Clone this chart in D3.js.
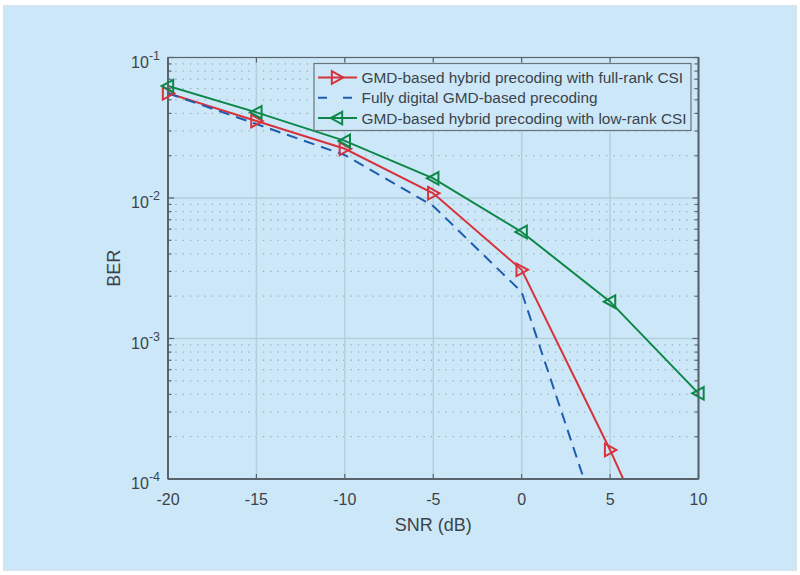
<!DOCTYPE html>
<html>
<head>
<meta charset="utf-8">
<script src="https://cdn.jsdelivr.net/npm/d3@7"></script>
<style>
  body { margin: 0; background: #ffffff; }
  text { font-family: "Liberation Sans", Arial, sans-serif; fill: #3c434a; }
</style>
</head>
<body>
<div id="chart"></div>
<script>
// SNR points (dB)
const snr = [-20, -15, -10, -5, 0, 5, 10];
// BER values
const berFullRank = [0.0556, 0.0353, 0.0224, 0.0108, 0.00308, 1.61e-4, 6.5e-6];
const berDigital = [0.0556, 0.0336, 0.0202, 0.00877, 0.00214, 2.75e-5];
const berLowRank = [0.0626, 0.0407, 0.0255, 0.0138, 0.00573, 0.00183, 4.07e-4];
const xTicks = [-20, -15, -10, -5, 0, 5, 10];
const yDecades = [-4, -3, -2, -1];
const legendLabels = [
  "GMD-based hybrid precoding with full-rank CSI",
  "Fully digital GMD-based precoding",
  "GMD-based hybrid precoding with low-rank CSI"
];

const W = 800, H = 575;
const margin = {top: 57.5, left: 168, right: 101.5, bottom: 96};
const width = W - margin.left - margin.right;
const height = H - margin.top - margin.bottom;

const bg = "#cce8f8";
const axisCol = "#59636c";

const svg = d3.select("#chart").append("svg")
  .attr("width", W).attr("height", H);

// panel
svg.append("rect")
  .attr("x", 3.5).attr("y", 5.5).attr("width", 793).attr("height", 565)
  .attr("fill", bg).attr("stroke", "#d8e4ea").attr("stroke-width", 1);

const x = d3.scaleLinear().domain([-20, 10]).range([0, width]);
const y = d3.scaleLog().domain([1e-4, 1e-1]).range([height, 0]);

const g = svg.append("g")
  .attr("transform", "translate(" + margin.left + "," + margin.top + ")");

svg.append("defs").append("clipPath").attr("id", "plotclip")
  .append("rect").attr("width", width).attr("height", height);

// minor y grid (dotted)
const minorVals = [];
yDecades.slice(0, 3).forEach(function(d) {
  for (let k = 2; k <= 9; k++) minorVals.push(k * Math.pow(10, d));
});
g.append("g").selectAll("line")
  .data(minorVals).enter().append("line")
  .attr("x1", 0).attr("x2", width)
  .attr("y1", d => y(d)).attr("y2", d => y(d))
  .attr("stroke", "#9aaeba").attr("stroke-width", 1.3)
  .attr("stroke-dasharray", "1.3,6");

// major grid
g.append("g").selectAll("line")
  .data(yDecades.slice(1, 3)).enter().append("line")
  .attr("x1", 0).attr("x2", width)
  .attr("y1", d => y(Math.pow(10, d))).attr("y2", d => y(Math.pow(10, d)))
  .attr("stroke", "#b3cfdc").attr("stroke-width", 1.5);
g.append("g").selectAll("line")
  .data(xTicks.slice(1, -1)).enter().append("line")
  .attr("x1", d => x(d)).attr("x2", d => x(d))
  .attr("y1", 0).attr("y2", height)
  .attr("stroke", "#b3cfdc").attr("stroke-width", 1.5);

// series
const line = d3.line()
  .x(d => x(d[0]))
  .y(d => y(d[1]));

const series = [
  {vals: berFullRank, color: "#d7333d", dash: null, marker: "right"},
  {vals: berDigital, color: "#1f5cb0", dash: "11,7", marker: null},
  {vals: berLowRank, color: "#0d8748", dash: null, marker: "left"}
];

function triPath(dir, s) {
  const h = s * 0.55;
  if (dir === "right") return "M" + (-s * 0.45) + "," + (-h) + "L" + (s * 0.55) + ",0L" + (-s * 0.45) + "," + h + "Z";
  return "M" + (s * 0.45) + "," + (-h) + "L" + (-s * 0.55) + ",0L" + (s * 0.45) + "," + h + "Z";
}

const plot = g.append("g").attr("clip-path", "url(#plotclip)");
series.forEach(function(s) {
  const pts = s.vals.map((v, i) => [snr[i], v]);
  plot.append("path")
    .datum(pts)
    .attr("fill", "none")
    .attr("stroke", s.color)
    .attr("stroke-width", 2)
    .attr("stroke-dasharray", s.dash)
    .attr("d", line);
});

// axes box
g.append("rect")
  .attr("width", width).attr("height", height)
  .attr("fill", "none").attr("stroke", axisCol).attr("stroke-width", 1.2);
g.append("line").attr("x1", 0).attr("x2", 0).attr("y1", 0).attr("y2", height)
  .attr("stroke", axisCol).attr("stroke-width", 2);
g.append("line").attr("x1", 0).attr("x2", width).attr("y1", height).attr("y2", height)
  .attr("stroke", axisCol).attr("stroke-width", 2);
g.append("line").attr("x1", width).attr("x2", width).attr("y1", 0).attr("y2", height)
  .attr("stroke", axisCol).attr("stroke-width", 2);

// markers drawn over the axes, only for points inside the y range
series.forEach(function(s) {
  if (!s.marker) return;
  const pts = s.vals.map((v, i) => [snr[i], v]).filter(p => p[1] >= 1e-4);
  g.selectAll(null)
    .data(pts).enter().append("path")
    .attr("transform", p => "translate(" + x(p[0]) + "," + y(p[1]) + ")")
    .attr("d", triPath(s.marker, 11.5))
    .attr("fill", "none")
    .attr("stroke", s.color)
    .attr("stroke-width", 2);
});

// x ticks (inward, bottom and top)
const xAxis = g.append("g");
xTicks.forEach(function(t) {
  xAxis.append("line").attr("x1", x(t)).attr("x2", x(t))
    .attr("y1", height).attr("y2", height - 5).attr("stroke", axisCol).attr("stroke-width", 1.2);
  xAxis.append("line").attr("x1", x(t)).attr("x2", x(t))
    .attr("y1", 0).attr("y2", 5).attr("stroke", axisCol).attr("stroke-width", 1.2);
  xAxis.append("text")
    .attr("x", x(t)).attr("y", height + 25.5)
    .attr("text-anchor", "middle")
    .attr("font-size", 16)
    .text(t);
});

// y ticks (major and minor, inward on left and right)
const yAxis = g.append("g");
yDecades.forEach(function(d) {
  const yy = y(Math.pow(10, d));
  [[0, 6], [width, width - 6]].forEach(function(p) {
    yAxis.append("line").attr("x1", p[0]).attr("x2", p[1])
      .attr("y1", yy).attr("y2", yy).attr("stroke", axisCol).attr("stroke-width", 1.2);
  });
  const lab = yAxis.append("text")
    .attr("x", -8).attr("y", yy + 10)
    .attr("text-anchor", "end")
    .attr("font-size", 16);
  lab.append("tspan").text("10");
  lab.append("tspan").attr("dy", -8).attr("font-size", 12.5).text(d);
});
minorVals.forEach(function(v) {
  const yy = y(v);
  [[0, 3.5], [width, width - 3.5]].forEach(function(p) {
    yAxis.append("line").attr("x1", p[0]).attr("x2", p[1])
      .attr("y1", yy).attr("y2", yy).attr("stroke", axisCol).attr("stroke-width", 1.2);
  });
});

// axis labels
g.append("text")
  .attr("x", x(-5)).attr("y", height + 51.5)
  .attr("text-anchor", "middle")
  .attr("font-size", 18)
  .text("SNR (dB)");
g.append("text")
  .attr("transform", "translate(-48," + (height / 2) + ") rotate(-90)")
  .attr("text-anchor", "middle")
  .attr("font-size", 18)
  .text("BER");

// legend
const leg = svg.append("g").attr("transform", "translate(314,63.5)");
leg.append("rect")
  .attr("width", 377).attr("height", 67)
  .attr("fill", bg).attr("stroke", "#6b747b").attr("stroke-width", 1.2);
series.forEach(function(s, i) {
  const ly = 14 + i * 20.3;
  leg.append("line")
    .attr("x1", 4).attr("x2", 43).attr("y1", ly).attr("y2", ly)
    .attr("stroke", s.color).attr("stroke-width", 2)
    .attr("stroke-dasharray", s.dash ? "9,16" : null);
  if (s.marker) {
    leg.append("path")
      .attr("transform", "translate(23," + ly + ")")
      .attr("d", triPath(s.marker, 11.5))
      .attr("fill", "none").attr("stroke", s.color).attr("stroke-width", 2);
  }
  leg.append("text")
    .attr("x", 47.5).attr("y", ly + 5.5)
    .attr("font-size", 15.4)
    .text(legendLabels[i]);
});
</script>
</body>
</html>
